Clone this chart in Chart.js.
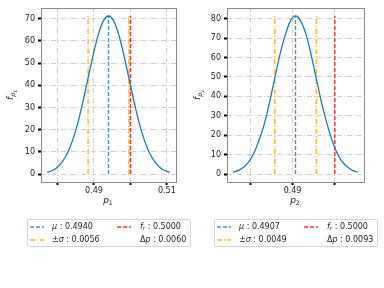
<!DOCTYPE html>
<html>
<head>
<meta charset="utf-8">
<script src="https://cdn.jsdelivr.net/npm/chart.js@4.4.0/dist/chart.umd.min.js"></script>
<style>
  body { margin: 0; background: #fff; }
  #wrap { position: relative; width: 384px; height: 288px; overflow: hidden; font-family: 'DejaVu Sans', sans-serif; color: #222; }
  canvas { position: absolute; top: 0; }
  .lab { position: absolute; font-size: 9px; white-space: nowrap; transform: translate(-50%, -50%); line-height: 1; }
  .lab.rot { transform: translate(-50%, -50%) rotate(-90deg); }
  .lab sub { font-size: 70%; vertical-align: -0.3em; }
  .legend { position: absolute; top: 219px; width: 164px; height: 28px; border: 1px solid #d4d4d4; border-radius: 2px; box-sizing: border-box; font-size: 8px; background: #fff; }
  .legend svg { position: absolute; }
  .legend span { position: absolute; white-space: nowrap; line-height: 1; transform: translateY(-50%); }
  .legend sub { font-size: 70%; vertical-align: -0.25em; }
</style>
</head>
<body>
<div id="wrap">
  <canvas id="chartP1" width="192" height="200" style="left:0"></canvas>
  <canvas id="chartP2" width="192" height="200" style="left:192px"></canvas>

  <div class="lab rot" style="left:12px;top:95px"><i>f</i><sub><i>p</i><sub>1</sub></sub></div>
  <div class="lab" style="left:108px;top:201px"><i>p</i><sub>1</sub></div>
  <div class="lab rot" style="left:199px;top:95px"><i>f</i><sub><i>p</i><sub>2</sub></sub></div>
  <div class="lab" style="left:295px;top:201px"><i>p</i><sub>2</sub></div>

  <div class="legend" id="legend1" style="left:27px"></div>
  <div class="legend" id="legend2" style="left:214px"></div>
</div>
<script>
// p1 panel: density curve
const p1X = [0.4772, 0.4786, 0.4800, 0.4814, 0.4828, 0.4842, 0.4856, 0.4870, 0.4884, 0.4898, 0.4912, 0.4926, 0.4940,
             0.4954, 0.4968, 0.4982, 0.4996, 0.5010, 0.5024, 0.5038, 0.5052, 0.5066, 0.5080, 0.5094, 0.5108];
const p1Y = [0.8, 1.6, 3.1, 5.7, 9.6, 15.4, 23.1, 32.6, 43.2, 53.7, 62.8, 69.0, 71.2,
             69.0, 62.8, 53.7, 43.2, 32.6, 23.1, 15.4, 9.6, 5.7, 3.1, 1.6, 0.8];
const p1Mu = 0.4940;
const p1Sigma = 0.0056;
const p1Fr = 0.5000;
const p1Dp = 0.0060;

// p2 panel
const p2X = [0.4760, 0.4772, 0.4785, 0.4797, 0.4809, 0.4821, 0.4834, 0.4846, 0.4858, 0.4870, 0.4883, 0.4895, 0.4907,
             0.4919, 0.4932, 0.4944, 0.4956, 0.4968, 0.4981, 0.4993, 0.5005, 0.5017, 0.5030, 0.5042, 0.5054];
const p2Y = [0.9, 1.9, 3.6, 6.5, 11.0, 17.6, 26.4, 37.3, 49.4, 61.4, 71.8, 78.9, 81.4,
             78.9, 71.8, 61.4, 49.4, 37.3, 26.4, 17.6, 11.0, 6.5, 3.6, 1.9, 0.9];
const p2Mu = 0.4907;
const p2Sigma = 0.0049;
const p2Fr = 0.5000;
const p2Dp = 0.0093;

// ticks
const p1XTicks = [0.48, 0.49, 0.50, 0.51];
const p1XLabels = ['', '0.49', '', '0.51'];
const p1YTicks = [0, 10, 20, 30, 40, 50, 60, 70];
const p2XTicks = [0.48, 0.49, 0.50];
const p2XLabels = ['', '0.49', ''];
const p2YTicks = [0, 10, 20, 30, 40, 50, 60, 70, 80];

const BLUE = '#1f77b4';
const BLUE_A = 'rgba(31,119,180,0.8)';
const ORANGE_A = 'rgba(255,165,0,0.85)';
const RED_A = 'rgba(255,0,0,0.8)';
const DASH = [4, 2];
const DASHDOT = [5, 2, 1, 2];

const framePlugin = {
    id: 'frame',
    afterDraw(chart) {
        const a = chart.chartArea;
        const ctx = chart.ctx;
        ctx.save();
        ctx.strokeStyle = '#8a8a8a';
        ctx.lineWidth = 1;
        ctx.strokeRect(Math.round(a.left) + 0.5, Math.round(a.top) + 0.5,
                       Math.round(a.right - a.left), Math.round(a.bottom - a.top));
        ctx.restore();
    }
};

function vline(x, top, color, dash) {
    return {
        data: [{ x: x, y: 0 }, { x: x, y: top }],
        borderColor: color,
        borderWidth: 1.4,
        borderDash: dash,
        pointRadius: 0,
        fill: false
    };
}

function makeChart(id, xs, ys, mu, sigma, fr, xTicks, xLabels, yTicks, xMin, xMax, yMin, yMax, yWidth, padRight) {
    const peak = Math.max(...ys);
    const ctx = document.getElementById(id).getContext('2d');
    return new Chart(ctx, {
        type: 'line',
        data: {
            datasets: [
                {
                    data: xs.map((x, i) => ({ x: x, y: ys[i] })),
                    borderColor: BLUE,
                    borderWidth: 1.3,
                    pointRadius: 0,
                    cubicInterpolationMode: 'monotone',
                    fill: false
                },
                vline(mu, peak, BLUE_A, DASH),
                vline(mu - sigma, peak, ORANGE_A, DASHDOT),
                vline(mu + sigma, peak, ORANGE_A, DASHDOT),
                vline(fr, peak, RED_A, DASH)
            ]
        },
        options: {
            responsive: false,
            animation: false,
            devicePixelRatio: 1,
            layout: { padding: { top: 8, right: padRight, left: 0, bottom: 0 } },
            plugins: { legend: { display: false }, tooltip: { enabled: false } },
            scales: {
                x: {
                    type: 'linear',
                    min: xMin,
                    max: xMax,
                    afterBuildTicks: (scale) => { scale.ticks = xTicks.map(v => ({ value: v })); },
                    afterFit: (scale) => { scale.height = 18; },
                    ticks: {
                        autoSkip: false,
                        maxRotation: 0,
                        padding: 1,
                        color: '#222',
                        font: { family: 'DejaVu Sans', size: 8 },
                        callback: (v, i) => xLabels[i]
                    },
                    grid: { color: '#cfcfcf', lineWidth: 1, tickLength: 3, tickColor: '#000', tickWidth: 2, tickBorderDash: [] },
                    border: { display: false, dash: DASHDOT }
                },
                y: {
                    min: yMin,
                    max: yMax,
                    afterBuildTicks: (scale) => { scale.ticks = yTicks.map(v => ({ value: v })); },
                    afterFit: (scale) => { scale.width = yWidth; },
                    ticks: {
                        padding: 3,
                        color: '#222',
                        font: { family: 'DejaVu Sans', size: 8 },
                        callback: (v) => String(v)
                    },
                    grid: { color: '#cfcfcf', lineWidth: 1, tickLength: 3, tickColor: '#000', tickWidth: 2, tickBorderDash: [] },
                    border: { display: false, dash: DASHDOT }
                }
            }
        },
        plugins: [framePlugin]
    });
}

makeChart('chartP1', p1X, p1Y, p1Mu, p1Sigma, p1Fr, p1XTicks, p1XLabels, p1YTicks,
          0.4755, 0.5125, -3.56, 74.8, 41, 16);
makeChart('chartP2', p2X, p2Y, p2Mu, p2Sigma, p2Fr, p2XTicks, p2XLabels, p2YTicks,
          0.4745, 0.5069, -4.07, 85.5, 35, 20);

// legends (two columns, as in the reference)
function handle(x, y, color, dash) {
    return '<svg style="left:' + x + 'px;top:' + (y - 3) + 'px" width="14" height="6">' +
        '<line x1="0" y1="3" x2="14" y2="3" stroke="' + color + '" stroke-width="1.5" stroke-dasharray="' + dash.join(',') + '"/></svg>';
}
function fmt(v) { return v.toFixed(4); }
function fillLegend(id, mu, sigma, fr, dp) {
    const el = document.getElementById(id);
    el.innerHTML =
        handle(2, 7, BLUE_A, DASH) +
        '<span style="left:24px;top:7px"><i>μ</i> : ' + fmt(mu) + '</span>' +
        handle(2, 20, ORANGE_A, DASHDOT) +
        '<span style="left:24px;top:20px">±<i>σ</i> : ' + fmt(sigma) + '</span>' +
        handle(89, 7, RED_A, DASH) +
        '<span style="left:112px;top:7px"><i>f</i><sub><i>r</i></sub> : ' + fmt(fr) + '</span>' +
        '<span style="left:112px;top:20px">Δ<i>p</i> : ' + fmt(dp) + '</span>';
}
fillLegend('legend1', p1Mu, p1Sigma, p1Fr, p1Dp);
fillLegend('legend2', p2Mu, p2Sigma, p2Fr, p2Dp);
</script>
</body>
</html>
